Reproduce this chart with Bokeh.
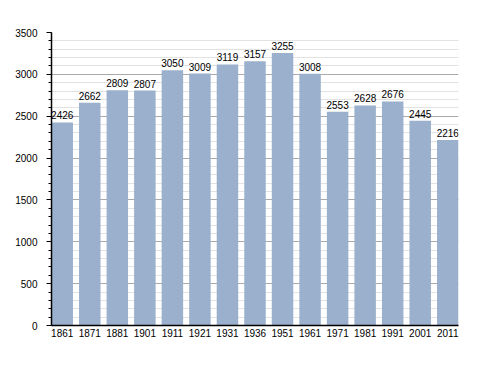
from bokeh.plotting import figure
from bokeh.models import ColumnDataSource, Range1d, SingleIntervalTicker, FixedTicker, LabelSet
from bokeh.core.properties import value
from bokeh.embed import file_html
from bokeh.resources import INLINE

years = ["1861", "1871", "1881", "1901", "1911", "1921", "1931", "1936",
         "1951", "1961", "1971", "1981", "1991", "2001", "2011"]
population = [2426, 2662, 2809, 2807, 3050, 3009, 3119, 3157,
              3255, 3008, 2553, 2628, 2676, 2445, 2216]

idx = list(range(len(years)))
src = ColumnDataSource(dict(x=idx, y=population, lab=[str(v) for v in population]))

FONT = "Liberation Sans"
BAR_W = 0.78

p = figure(width=472, height=357,
           x_range=Range1d(-BAR_W / 2, len(years) - 1 + BAR_W / 2),
           y_range=Range1d(0, 3500), output_backend="svg", toolbar_location=None,
           min_border_left=51, min_border_right=14, min_border_top=32, min_border_bottom=32)
p.outline_line_color = None
p.vbar(x="x", top="y", width=BAR_W, source=src, fill_color="#9ab0cc", line_color=None)

labels = LabelSet(x="x", y="y", text="lab", source=src, text_align="center",
                  text_baseline="bottom", y_offset=3, text_font_size=value("10px"),
                  text_font=value(FONT), text_color=value("#000000"))
p.add_layout(labels)

p.yaxis.ticker = SingleIntervalTicker(interval=500, num_minor_ticks=5)
p.ygrid.ticker = p.yaxis.ticker
p.ygrid.grid_line_color = "#aaaaaa"
p.ygrid.minor_grid_line_color = "#e2e2e2"
p.xgrid.grid_line_color = None

p.xaxis.ticker = FixedTicker(ticks=idx)
p.xaxis.major_label_overrides = {i: y for i, y in zip(idx, years)}

for ax in (p.xaxis, p.yaxis):
    ax.axis_line_color = "black"
    ax.axis_line_width = 1.5
    ax.major_label_text_font = FONT
    ax.major_label_text_font_size = "10px"
    ax.major_label_text_color = "black"

p.yaxis.major_tick_out = 5
p.yaxis.major_tick_in = 0
p.yaxis.minor_tick_out = 3
p.yaxis.minor_tick_in = 0
p.yaxis.major_label_standoff = 9
p.xaxis.major_tick_line_color = None
p.xaxis.minor_tick_line_color = None
p.xaxis.major_tick_out = 0
p.xaxis.major_tick_in = 0
p.xaxis.major_label_standoff = 3

open("out.html", "w").write(file_html(p, INLINE))
